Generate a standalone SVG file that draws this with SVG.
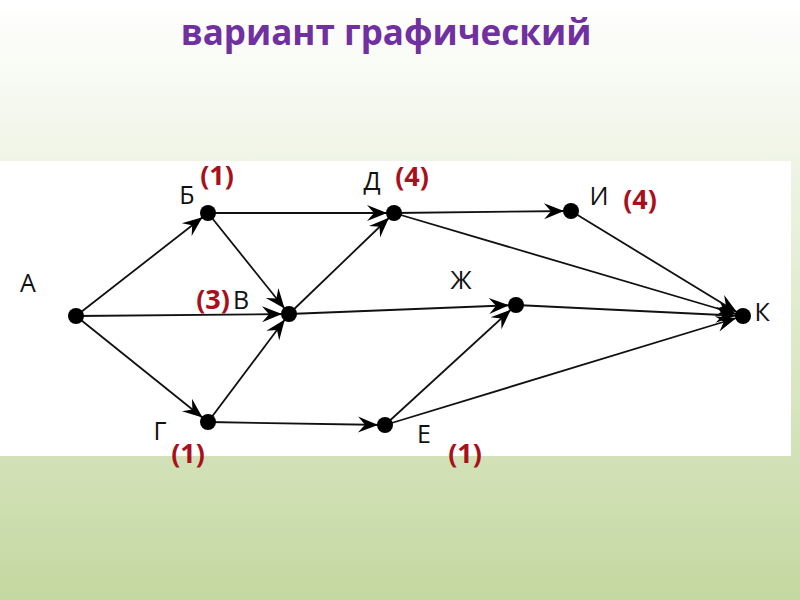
<svg xmlns="http://www.w3.org/2000/svg" width="800" height="600" viewBox="0 0 800 600">
<defs>
<linearGradient id="bg" x1="0" y1="0" x2="0" y2="1">
<stop offset="0" stop-color="#ffffff"/>
<stop offset="1" stop-color="#c4d8a1"/>
</linearGradient>
<marker id="arr" markerUnits="userSpaceOnUse" markerWidth="30" markerHeight="24" viewBox="-24 -12 30 24" refX="7" refY="0" orient="auto">
<path d="M0,0 L-20,-8 L-13,0 L-20,8 Z" fill="#000"/>
</marker>
<style>
.e{stroke:#111;stroke-width:1.8;fill:none;marker-end:url(#arr)}
.n{fill:#000}
.l{font-family:"Open Sans","Liberation Sans",sans-serif;font-size:25px;fill:#111}
.w{font-family:"Open Sans","Liberation Sans",sans-serif;font-size:27px;font-weight:bold;fill:#a8111b}
.t{font-family:"Open Sans","Liberation Sans",sans-serif;font-size:35px;font-weight:bold;fill:#7030a0}
</style>
</defs>
<rect x="0" y="0" width="800" height="600" fill="url(#bg)"/>
<rect x="0" y="161" width="791" height="295" fill="#ffffff"/>
<text class="t" x="386" y="45" text-anchor="middle">вариант графический</text>
<g id="connectors">
<line class="e" x1="76" y1="316" x2="208" y2="213"/>
<line class="e" x1="76" y1="316" x2="289" y2="314"/>
<line class="e" x1="76" y1="316" x2="208" y2="422"/>
<line class="e" x1="208" y1="213" x2="394" y2="213"/>
<line class="e" x1="208" y1="213" x2="289" y2="314"/>
<line class="e" x1="208" y1="422" x2="289" y2="314"/>
<line class="e" x1="208" y1="422" x2="385" y2="425"/>
<line class="e" x1="289" y1="314" x2="394" y2="213"/>
<line class="e" x1="289" y1="314" x2="516" y2="305"/>
<line class="e" x1="385" y1="425" x2="516" y2="305"/>
<line class="e" x1="385" y1="425" x2="743" y2="316"/>
<line class="e" x1="394" y1="213" x2="571" y2="211"/>
<line class="e" x1="394" y1="213" x2="743" y2="316"/>
<line class="e" x1="571" y1="211" x2="743" y2="316"/>
<line class="e" x1="516" y1="305" x2="743" y2="316"/>
</g>
<g id="A"><circle class="n" cx="76" cy="316" r="8"/><text class="l" x="28" y="292" text-anchor="middle">А</text></g>
<g id="B"><circle class="n" cx="208" cy="213" r="8"/><text class="l" x="187" y="204" text-anchor="middle">Б</text><text class="w" x="217" y="185" text-anchor="middle">(1)</text></g>
<g id="V"><circle class="n" cx="289" cy="314" r="8"/><text class="l" x="241" y="309" text-anchor="middle">В</text><text class="w" x="213" y="309" text-anchor="middle">(3)</text></g>
<g id="G"><circle class="n" cx="208" cy="422" r="8"/><text class="l" x="160" y="440" text-anchor="middle">Г</text><text class="w" x="188" y="463" text-anchor="middle">(1)</text></g>
<g id="D"><circle class="n" cx="394" cy="213" r="8"/><text class="l" x="372" y="190" text-anchor="middle">Д</text><text class="w" x="412" y="186" text-anchor="middle">(4)</text></g>
<g id="I"><circle class="n" cx="571" cy="211" r="8"/><text class="l" x="599" y="205" text-anchor="middle">И</text><text class="w" x="640" y="209" text-anchor="middle">(4)</text></g>
<g id="Zh"><circle class="n" cx="516" cy="305" r="8"/><text class="l" x="461" y="289" text-anchor="middle">Ж</text></g>
<g id="E"><circle class="n" cx="385" cy="425" r="8"/><text class="l" x="424" y="443" text-anchor="middle">Е</text><text class="w" x="465" y="463" text-anchor="middle">(1)</text></g>
<g id="K"><circle class="n" cx="743" cy="316" r="8"/><text class="l" x="762" y="321" text-anchor="middle">К</text></g>
</svg>
